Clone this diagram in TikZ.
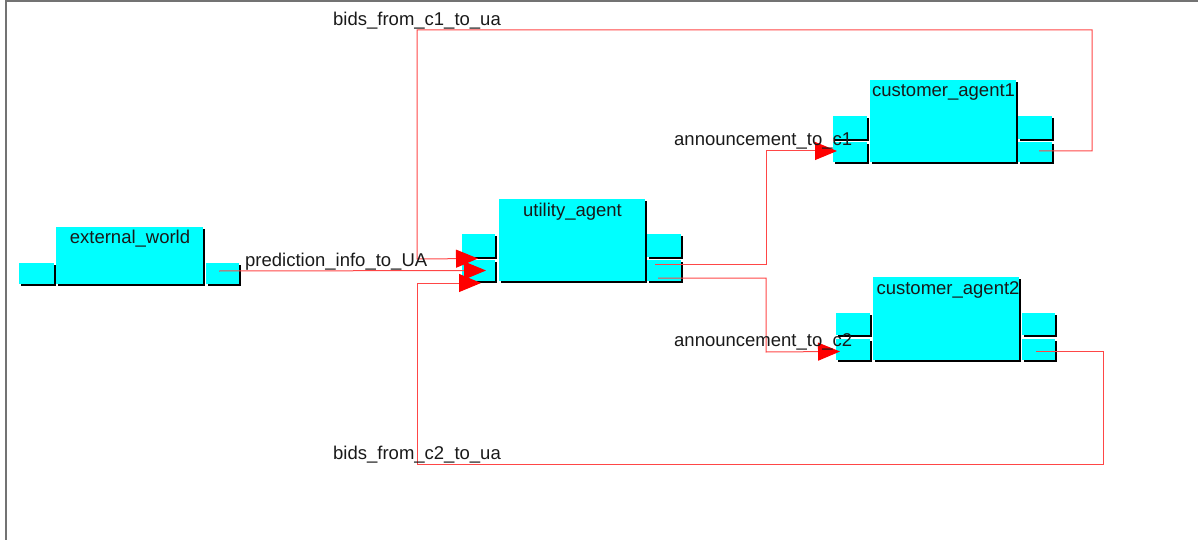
\documentclass[tikz,border=0pt]{standalone}
\usepackage{fontspec}
\setmainfont{Liberation Sans}
\usetikzlibrary{arrows.meta,calc,shadows}
\definecolor{aqua}{RGB}{0,255,255}
\definecolor{wirered}{RGB}{255,70,70}
\definecolor{tipred}{RGB}{255,0,0}
\tikzset{
  blk/.style={fill=aqua, draw=none, inner sep=0pt, outer sep=0pt, anchor=north west,
    drop shadow={shadow xshift=2pt, shadow yshift=-2pt, fill=black, opacity=1}},
  wire/.style={draw=wirered, line width=1pt},
  arr/.style={wire, -{Triangle[length=22pt,width=18pt,color=tipred,fill=tipred]}},
  lbl/.style={font=\fontsize{18.5}{20}\selectfont, inner sep=0pt, anchor=base west, text=black!90},
  ttl/.style={font=\fontsize{18.5}{20}\selectfont, inner sep=0pt, anchor=base, text=black!90},
  frame/.style={draw=black!55, line width=2pt},
}
\begin{document}
\begin{tikzpicture}[x=1pt,y=-1pt]
\useasboundingbox (0,0) rectangle (1198,540);
% frame
\coordinate (fa) at (6,540);
\coordinate (fb) at (6,1.5);
\coordinate (fc) at (1198,1.5);
\draw[frame] (fa) -- (fb) -- (fc);

% external_world
\node[blk, minimum width=147pt, minimum height=57pt] (ew) at (56,227) {};
\node[blk, minimum width=35pt, minimum height=21pt] (ewL) at (19,263) {};
\node[blk, minimum width=33pt, minimum height=21pt] (ewR) at (206,263) {};

% utility_agent
\node[blk, minimum width=146pt, minimum height=82pt] (ua) at (499,199) {};
\node[blk, minimum width=33pt, minimum height=23pt] (uaL1) at (462,234) {};
\node[blk, minimum width=33pt, minimum height=21pt] (uaL2) at (462,260) {};
\node[blk, minimum width=34pt, minimum height=23pt] (uaR1) at (647,234) {};
\node[blk, minimum width=34pt, minimum height=21pt] (uaR2) at (647,260) {};

% customer_agent1
\node[blk, minimum width=146pt, minimum height=82pt] (ca1) at (870,80) {};
\node[blk, minimum width=34pt, minimum height=23pt] (ca1L1) at (833,116) {};
\node[blk, minimum width=34pt, minimum height=20pt] (ca1L2) at (833,142) {};
\node[blk, minimum width=34pt, minimum height=23pt] (ca1R1) at (1018,116) {};
\node[blk, minimum width=34pt, minimum height=20pt] (ca1R2) at (1018,142) {};

% customer_agent2
\node[blk, minimum width=146pt, minimum height=83pt] (ca2) at (873,277) {};
\node[blk, minimum width=34pt, minimum height=22pt] (ca2L1) at (836,313) {};
\node[blk, minimum width=34pt, minimum height=21pt] (ca2L2) at (836,339) {};
\node[blk, minimum width=33pt, minimum height=22pt] (ca2R1) at (1022,313) {};
\node[blk, minimum width=33pt, minimum height=21pt] (ca2R2) at (1022,339) {};

% connectors
% prediction_info_to_UA
\draw[arr] ($(ewR.west)+(13,-2.5)$) -- ($(uaL2.west)+(24,0)$);
% bids_from_c1_to_ua
\draw[arr] ($(ca1R2.west)+(21,-1)$) -| (1092,30) -| (417,259) -- ($(uaL1.south west)+(16,1.5)$);
% bids_from_c2_to_ua
\draw[arr] ($(ca2R2.west)+(14,2)$) -| (1103,464) -| (417,283) -- ($(uaL2.south west)+(19,2)$);
% announcement_to_c1
\draw[arr] ($(uaR2.west)+(8,-6.5)$) -| (766,151) -- ($(ca1L2.west)+(4,-1)$);
% announcement_to_c2
\draw[arr] ($(uaR2.west)+(11,7.5)$) -| (766,352) -- ($(ca2L2.west)+(4,2)$);

% titles
\node[ttl] (tew) at (130,243) {external\_world};
\node[ttl] (tua) at (572.5,216) {utility\_agent};
\node[ttl] (tca1) at (943.5,97) {customer\_agent1};
\node[ttl] (tca2) at (948,294) {customer\_agent2};

% labels
\node[lbl] (lpred) at (245,266) {prediction\_info\_to\_UA};
\node[lbl] (lb1) at (333,26) {bids\_from\_c1\_to\_ua};
\node[lbl] (lb2) at (333,459) {bids\_from\_c2\_to\_ua};
\node[lbl] (la1) at (674,146) {announcement\_to\_c1};
\node[lbl] (la2) at (674,346) {announcement\_to\_c2};
\end{tikzpicture}
\end{document}
